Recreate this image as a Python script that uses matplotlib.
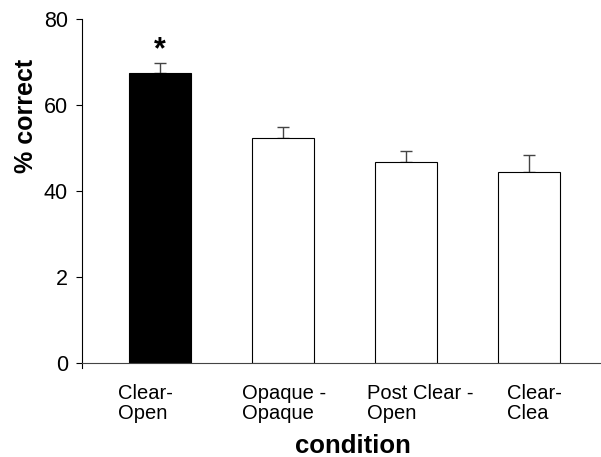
import numpy as np
import matplotlib.pyplot as plt

plt.rcParams['font.family'] = ['Liberation Sans', 'DejaVu Sans']

conditions = ["Clear-\nOpen", "Opaque -\nOpaque", "Post Clear -\nOpen", "Clear-\nClea"]
means = [67.4, 52.4, 46.7, 44.4]
errors = [2.4, 2.6, 2.5, 4.0]
colors = ["black", "white", "white", "white"]
label_shift = [0.34, 0.335, 0.317, 0.18]
ytick_vals = [0, 20, 40, 60, 80]
ytick_text = ["0", "2", "40", "60", "80"]

fig = plt.figure(figsize=(6.01, 4.57), dpi=100)
ax = fig.add_axes([0.1364, 0.2057, 0.8636, 0.7527])

x = np.arange(len(means))
ax.bar(x, means, width=0.5, color=colors, edgecolor="black", linewidth=0.8, zorder=2)
ax.errorbar(x, means, yerr=[np.zeros(len(errors)), errors], fmt="none",
            ecolor="#444444", elinewidth=1.0, capsize=4.5, capthick=1.0, zorder=1)

ax.set_xlim(-0.634, 3.585)
ax.set_ylim(0, 80)
ax.set_yticks(ytick_vals)
ax.set_yticklabels(ytick_text, fontsize=15.5)
ax.set_xticks([])
ax.tick_params(axis="y", direction="out", length=4, width=0.8, pad=6)

for side in ["top", "right"]:
    ax.spines[side].set_visible(False)
ax.spines["left"].set_linewidth(0.8)
ax.spines["bottom"].set_linewidth(0.8)
ax.spines["left"].set_bounds(-1.2, 80)
ax.spines["bottom"].set_color("#444444")

for i, lab in enumerate(conditions):
    ax.text(i - label_shift[i], -4.8, lab, ha="left", va="top", fontsize=14.5,
            linespacing=1.12)

ax.text(0, 72.8, "*", ha="center", va="center", fontsize=22, fontweight="bold")

fig.text(0.063, 0.747, "% correct", rotation=90, ha="right", va="center",
         fontsize=18, fontweight="bold")
fig.text(0.5865, 0.0088, "condition", ha="center", va="baseline",
         fontsize=18.5, fontweight="bold")

fig.savefig("out.png", dpi=100)
